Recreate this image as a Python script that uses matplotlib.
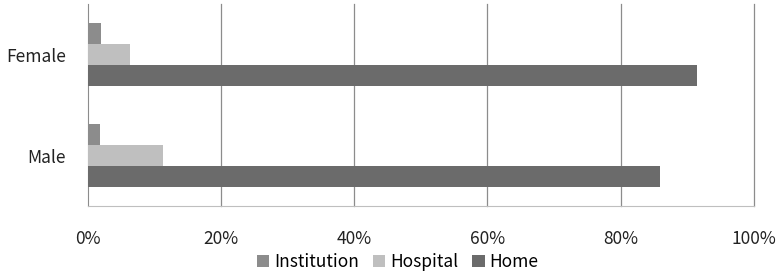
import numpy as np
import matplotlib.pyplot as plt
from matplotlib.ticker import PercentFormatter

plt.rcParams['font.family'] = ['Noto Sans CJK KR', 'DejaVu Sans']

groups = ['Male', 'Female']
series = ['Institution', 'Hospital', 'Home']
institution = [1.8, 1.9]
hospital = [11.3, 6.2]
home = [86.0, 91.5]
colors = ['#8c8c8c', '#bfbfbf', '#6b6b6b']
ticks = [0, 20, 40, 60, 80, 100]

fig = plt.figure(figsize=(7.8, 2.76), dpi=100)
ax = fig.add_axes([0.1132, 0.2536, 0.8529, 0.7319])

y = np.arange(len(groups))
h = 0.21
for vals, off, c, name in zip([institution, hospital, home], [h, 0, -h], colors, series):
    ax.barh(y + off, vals, height=h, color=c, label=name, zorder=3)

ax.set_xlim(0, 100)
ax.set_ylim(-0.5, 1.5)
ax.set_xticks(ticks)
ax.xaxis.set_major_formatter(PercentFormatter(decimals=0))
ax.set_yticks(y)
ax.set_yticklabels(groups)
ax.tick_params(length=0, labelsize=12.5, colors='#222222')
ax.tick_params(axis='x', pad=17)
ax.tick_params(axis='y', pad=16)
for t in ticks[1:]:
    ax.axvline(t, color='#8c8c8c', lw=0.9, zorder=0, clip_on=False)
for s in ['top', 'right']:
    ax.spines[s].set_visible(False)
ax.spines['left'].set_color('#8c8c8c')
ax.spines['bottom'].set_color('#bfbfbf')

fig.legend(loc='center', bbox_to_anchor=(0.51, 0.05), ncol=3, frameon=False,
           fontsize=12.5, handlelength=0.7, handleheight=0.7, handletextpad=0.3,
           columnspacing=0.8)

fig.savefig('out.png', dpi=100)
